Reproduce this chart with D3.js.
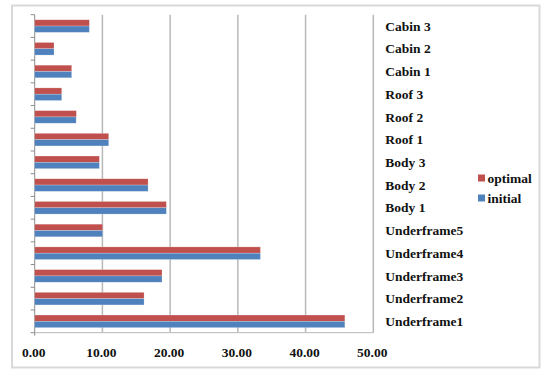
<!DOCTYPE html>
<html>
<head>
<meta charset="utf-8">
<script src="https://cdn.jsdelivr.net/npm/d3@7"></script>
<style>
  html, body { margin: 0; padding: 0; background: #fff; }
  svg { display: block; }
</style>
</head>
<body>
<svg id="chart" width="541" height="370"></svg>
<script>
// Components, listed top to bottom
const categories = ["Cabin 3", "Cabin 2", "Cabin 1", "Roof 3", "Roof 2", "Roof 1",
  "Body 3", "Body 2", "Body 1", "Underframe5", "Underframe4", "Underframe3",
  "Underframe2", "Underframe1"];
const optimal = [8.07, 2.85, 5.46, 3.99, 6.15, 10.93, 9.55, 16.74, 19.44, 10.04, 33.33, 18.80, 16.15, 45.80];
const initial = [8.07, 2.85, 5.46, 3.99, 6.12, 10.93, 9.55, 16.74, 19.44, 10.04, 33.33, 18.80, 16.15, 45.80];
const xTicks = [0, 10, 20, 30, 40, 50];
const seriesNames = ["optimal", "initial"];
const seriesColors = ["#C0504D", "#4F81BD"];

const FONT = "'Liberation Serif', 'Times New Roman', 'DejaVu Serif', serif";

const svg = d3.select("#chart")
  .attr("font-family", FONT)
  .attr("font-weight", "bold");

// outer chart frame
svg.append("rect")
  .attr("x", 12).attr("y", 5.5).attr("width", 527.5).attr("height", 362)
  .attr("fill", "#fff").attr("stroke", "#d9d9d9").attr("stroke-width", 2);

const plot = { left: 34.7, right: 373.3, top: 14.7, bottom: 332.7 };

const x = d3.scaleLinear().domain([0, 50]).range([plot.left, plot.right]);
const y = d3.scaleBand().domain(categories).range([plot.top, plot.bottom]);
const barH = 6.3;

// vertical gridlines
svg.append("g").selectAll("line")
  .data(xTicks.filter(d => d > 0))
  .join("line")
  .attr("x1", d => x(d)).attr("x2", d => x(d))
  .attr("y1", plot.top).attr("y2", plot.bottom)
  .attr("stroke", "#b8b8b8").attr("stroke-width", 1.5);

// horizontal axis line
svg.append("line")
  .attr("x1", plot.left).attr("x2", plot.right)
  .attr("y1", plot.bottom).attr("y2", plot.bottom)
  .attr("stroke", "#b8b8b8").attr("stroke-width", 1);

// vertical axis with outward ticks at band boundaries
const yAxisG = svg.append("g");
yAxisG.append("line")
  .attr("x1", plot.left).attr("x2", plot.left)
  .attr("y1", plot.top).attr("y2", plot.bottom + 3)
  .attr("stroke", "#8c8c8c").attr("stroke-width", 1);
const boundaries = categories.map(c => y(c)).concat([plot.bottom]);
yAxisG.selectAll("line.tk")
  .data(boundaries)
  .join("line")
  .attr("class", "tk")
  .attr("x1", plot.left - 4).attr("x2", plot.left)
  .attr("y1", d => d).attr("y2", d => d)
  .attr("stroke", "#8c8c8c").attr("stroke-width", 1);

// bars: optimal on top, initial beneath
const series = [optimal, initial];
series.forEach((vals, si) => {
  svg.append("g").selectAll("rect")
    .data(categories)
    .join("rect")
    .attr("x", x(0))
    .attr("y", c => y(c) + y.bandwidth() / 2 - barH + si * barH)
    .attr("width", (c, i) => x(vals[i]) - x(0))
    .attr("height", barH)
    .attr("fill", seriesColors[si])
    .attr("stroke", "rgba(255,255,255,0.35)")
    .attr("stroke-width", 0.6);
});

// category labels on the right
svg.append("g").selectAll("text")
  .data(categories)
  .join("text")
  .attr("x", 385.3)
  .attr("y", c => y(c) + y.bandwidth() / 2)
  .attr("dy", "0.35em")
  .attr("font-size", 13.5)
  .attr("fill", "#111")
  .text(c => c);

// x tick labels
svg.append("g").selectAll("text")
  .data(xTicks)
  .join("text")
  .attr("x", d => x(d) - 1)
  .attr("y", 352.7)
  .attr("dy", "0.35em")
  .attr("text-anchor", "middle")
  .attr("font-size", 13.5)
  .attr("fill", "#111")
  .text(d => d3.format(".2f")(d));

// legend
const legend = svg.append("g");
seriesNames.forEach((name, i) => {
  const cy = 178 + i * 20;
  legend.append("rect")
    .attr("x", 478).attr("y", cy - 3.5)
    .attr("width", 7).attr("height", 7)
    .attr("fill", seriesColors[i]);
  legend.append("text")
    .attr("x", 487.5).attr("y", cy)
    .attr("dy", "0.35em")
    .attr("font-size", 13.5)
    .attr("fill", "#111")
    .text(name);
});
</script>
</body>
</html>
